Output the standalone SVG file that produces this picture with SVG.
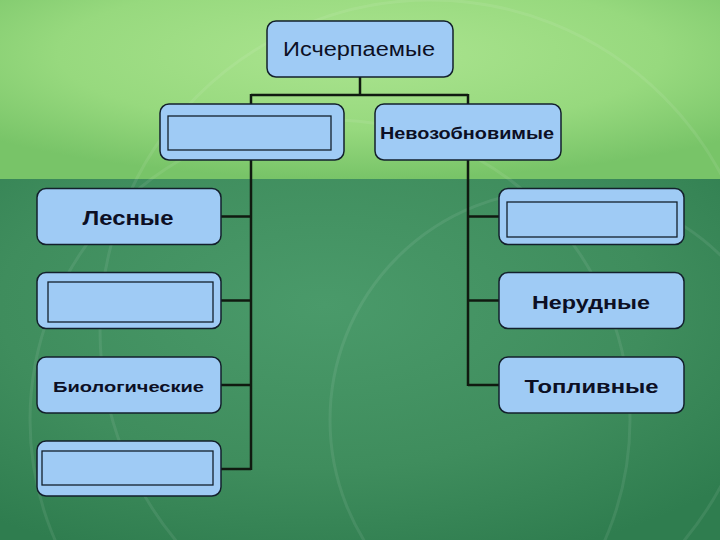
<svg xmlns="http://www.w3.org/2000/svg" width="720" height="540" viewBox="0 0 720 540">
<defs>
<radialGradient id="topg" cx="0.5" cy="0.3" r="0.7">
<stop offset="0" stop-color="#abe48f"/>
<stop offset="0.6" stop-color="#97d97e"/>
<stop offset="1" stop-color="#78c468"/>
</radialGradient>
<radialGradient id="botg" cx="0.45" cy="0.35" r="0.75">
<stop offset="0" stop-color="#4a9a6a"/>
<stop offset="0.6" stop-color="#3f8d5d"/>
<stop offset="1" stop-color="#2f7d4f"/>
</radialGradient>
<style>
.box{fill:#9fcbf5;stroke:#13202c;stroke-width:1.5}
.inner{fill:#9fcbf5;stroke:#13202c;stroke-width:1.3}
.t{font-family:"Liberation Sans",Arial,sans-serif;fill:#0c0f24;text-anchor:middle}
.b{font-weight:bold}
.ln{stroke:#101a10;stroke-width:2.5;fill:none}
.arc{fill:none;stroke:#ffffff;stroke-opacity:0.08;stroke-width:3}
</style>
</defs>
<rect x="0" y="0" width="720" height="179" fill="url(#topg)"/>
<rect x="0" y="179" width="720" height="361" fill="url(#botg)"/>
<g>
<circle class="arc" cx="430" cy="330" r="330"/>
<circle class="arc" cx="560" cy="420" r="230"/>
<circle class="arc" cx="330" cy="420" r="300"/>
</g>
<g id="connectors">
<path class="ln" d="M360 77 V95 M251 95 H468 M251 94 V104 M468 94 V104"/>
<path class="ln" d="M251 160 V470 M221 216.5 H251 M221 300.5 H251 M221 385 H251 M221 469 H251"/>
<path class="ln" d="M468 160 V386 M468 216.5 H499 M468 300.5 H499 M468 385 H499"/>
</g>
<g id="n-ischerpaemye">
<rect class="box" x="267" y="21" width="186" height="56" rx="9"/>
<text class="t" x="359" y="55.5" font-size="20" textLength="152" lengthAdjust="spacingAndGlyphs">Исчерпаемые</text>
</g>
<g id="n-empty1">
<rect class="box" x="160" y="104" width="184" height="56" rx="9"/>
<rect class="inner" x="168" y="116" width="163" height="34"/>
</g>
<g id="n-nevozob">
<rect class="box" x="375" y="104" width="186" height="56" rx="9"/>
<text class="t b" x="467" y="139" font-size="17" textLength="174" lengthAdjust="spacingAndGlyphs">Невозобновимые</text>
</g>
<g id="n-lesnye">
<rect class="box" x="37" y="188.5" width="184" height="56" rx="9"/>
<text class="t b" x="128" y="225" font-size="20" textLength="91" lengthAdjust="spacingAndGlyphs">Лесные</text>
</g>
<g id="n-empty2">
<rect class="box" x="37" y="272.5" width="184" height="56" rx="9"/>
<rect class="inner" x="48" y="282" width="165" height="40"/>
</g>
<g id="n-biolog">
<rect class="box" x="37" y="357" width="184" height="56" rx="9"/>
<text class="t b" x="128.5" y="391.5" font-size="15" textLength="151" lengthAdjust="spacingAndGlyphs">Биологические</text>
</g>
<g id="n-empty3">
<rect class="box" x="37" y="441" width="184" height="55" rx="9"/>
<rect class="inner" x="42" y="451" width="171" height="34"/>
</g>
<g id="n-empty4">
<rect class="box" x="499" y="188.5" width="185" height="56" rx="9"/>
<rect class="inner" x="507" y="202" width="170" height="35"/>
</g>
<g id="n-nerudnye">
<rect class="box" x="499" y="272.5" width="185" height="56" rx="9"/>
<text class="t b" x="591" y="308.5" font-size="19" textLength="118" lengthAdjust="spacingAndGlyphs">Нерудные</text>
</g>
<g id="n-toplivnye">
<rect class="box" x="499" y="357" width="185" height="56" rx="9"/>
<text class="t b" x="591.5" y="393" font-size="19" textLength="134" lengthAdjust="spacingAndGlyphs">Топливные</text>
</g>
</svg>
